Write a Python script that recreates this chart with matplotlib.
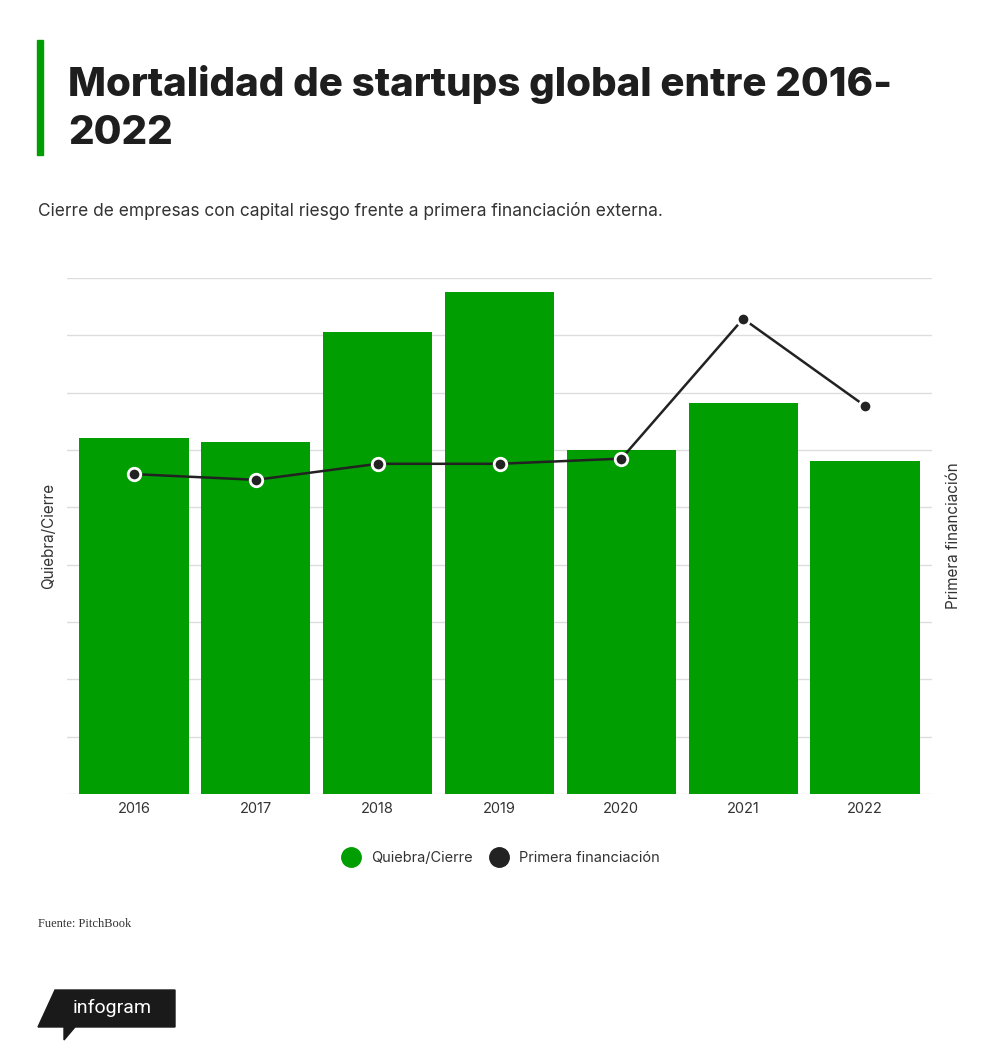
import matplotlib
matplotlib.use("Agg")
import matplotlib.pyplot as plt
from matplotlib.patches import Polygon, Rectangle
from matplotlib.lines import Line2D

# Data (arbitrary units read off the gridlines, no tick labels in the original)
years = ["2016", "2017", "2018", "2019", "2020", "2021", "2022"]
quiebra_cierre = [621, 614, 806, 876, 600, 682, 581]
primera_financiacion = [558, 548, 576, 576, 585, 829, 677]

green = "#009e00"
dark = "#222222"
grid_col = "#dddddd"

fig = plt.figure(figsize=(10, 10.6), dpi=100)
fig.patch.set_facecolor("white")

ax = fig.add_axes([0.067, 0.2509, 0.865, 0.4868])
x = range(len(years))
ax.bar(x, quiebra_cierre, width=0.895, color=green, zorder=2)
ax.set_xlim(-0.55, 6.55)
ax.set_ylim(0, 900)
ax.set_yticks(range(0, 901, 100))
ax.yaxis.grid(True, color=grid_col, linewidth=1, zorder=0)
ax.tick_params(axis="y", length=0, labelleft=False)
ax.tick_params(axis="x", length=0, labelsize=10.5, labelcolor="#333333", pad=6)
ax.set_xticks(list(x))
ax.set_xticklabels(years, family="Inter")
for s in ax.spines.values():
    s.set_visible(False)
ax.set_ylabel("Quiebra/Cierre", fontsize=11, color="#333333", family="Inter", labelpad=8)

ax2 = ax.twinx()
ax2.set_ylim(0, 900)
ax2.plot(x, primera_financiacion, color=dark, linewidth=1.8, marker="o",
         markersize=9, markerfacecolor=dark, markeredgecolor="white",
         markeredgewidth=2, zorder=3)
ax2.set_yticks([])
for s in ax2.spines.values():
    s.set_visible(False)
ax2.set_ylabel("Primera financiación", fontsize=11, color="#333333", family="Inter", labelpad=10)

# title + accent bar
fig.add_artist(Rectangle((0.037, 1 - 155 / 1060), 0.006, 115 / 1060,
                         transform=fig.transFigure, color=green))
fig.text(0.068, 1 - 96 / 1060, "Mortalidad de startups global entre 2016-",
         fontsize=29, fontweight="heavy", family="Inter", color="#1e1e1e")
fig.text(0.068, 1 - 144 / 1060, "2022",
         fontsize=29, fontweight="heavy", family="Inter", color="#1e1e1e")
fig.text(0.038, 1 - 216 / 1060,
         "Cierre de empresas con capital riesgo frente a primera financiación externa.",
         fontsize=12.5, family="Inter", color="#333333")

# legend
handles = [
    Line2D([], [], linestyle="none", marker="o", markersize=14, color=green),
    Line2D([], [], linestyle="none", marker="o", markersize=14, color=dark),
]
fig.legend(handles, ["Quiebra/Cierre", "Primera financiación"], loc="center",
           bbox_to_anchor=(0.498, 1 - 858 / 1060), ncol=2, frameon=False,
           prop={"family": "Inter", "size": 10.5}, handletextpad=0.4,
           columnspacing=0.8, labelcolor="#333333")

fig.text(0.038, 1 - 927 / 1060, "Fuente: PitchBook", fontsize=9,
         family="Liberation Serif", color="#333333")

# infogram badge
fig.add_artist(Polygon([(0.038, 1 - 1027 / 1060), (0.055, 1 - 990 / 1060),
                        (0.175, 1 - 990 / 1060), (0.175, 1 - 1027 / 1060),
                        (0.075, 1 - 1027 / 1060), (0.064, 1 - 1040 / 1060),
                        (0.064, 1 - 1027 / 1060)],
                       closed=True, transform=fig.transFigure, color="#1a1a1a"))
fig.text(0.112, 1 - 1008 / 1060, "infogram", fontsize=14, color="white",
         family="Roboto", ha="center", va="center", fontstretch="condensed")

fig.savefig("out.png", dpi=100)
